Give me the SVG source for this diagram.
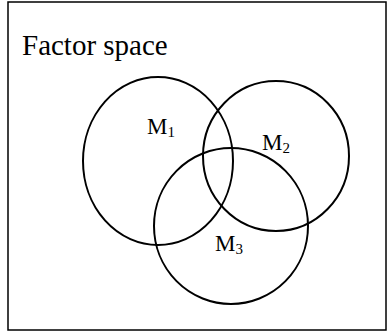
<svg xmlns="http://www.w3.org/2000/svg" width="390" height="334" viewBox="0 0 390 334">
<style>
.frame{fill:none;stroke:#000;stroke-width:1.5}
.set{fill:none;stroke:#000;stroke-width:2}
.t{font-family:"Liberation Serif","Times New Roman",serif;fill:#000}
.lbl{font-size:23px}
.sub{font-size:15px}
</style>
<rect width="390" height="334" fill="#fff"/>
<rect class="frame" x="8" y="2" width="378" height="328"/>
<text class="t" x="22" y="55" font-size="29">Factor space</text>
<g id="M1">
<ellipse class="set" cx="158" cy="161" rx="75" ry="84"/>
<text class="t lbl" x="147" y="134">M<tspan class="sub" dy="3">1</tspan></text>
</g>
<g id="M2">
<ellipse class="set" cx="276" cy="156" rx="73" ry="75"/>
<text class="t lbl" x="262" y="150">M<tspan class="sub" dy="3">2</tspan></text>
</g>
<g id="M3">
<ellipse class="set" cx="231" cy="226" rx="77" ry="78"/>
<text class="t lbl" x="215" y="251">M<tspan class="sub" dy="3">3</tspan></text>
</g>
<g id="connectors"/>
</svg>
